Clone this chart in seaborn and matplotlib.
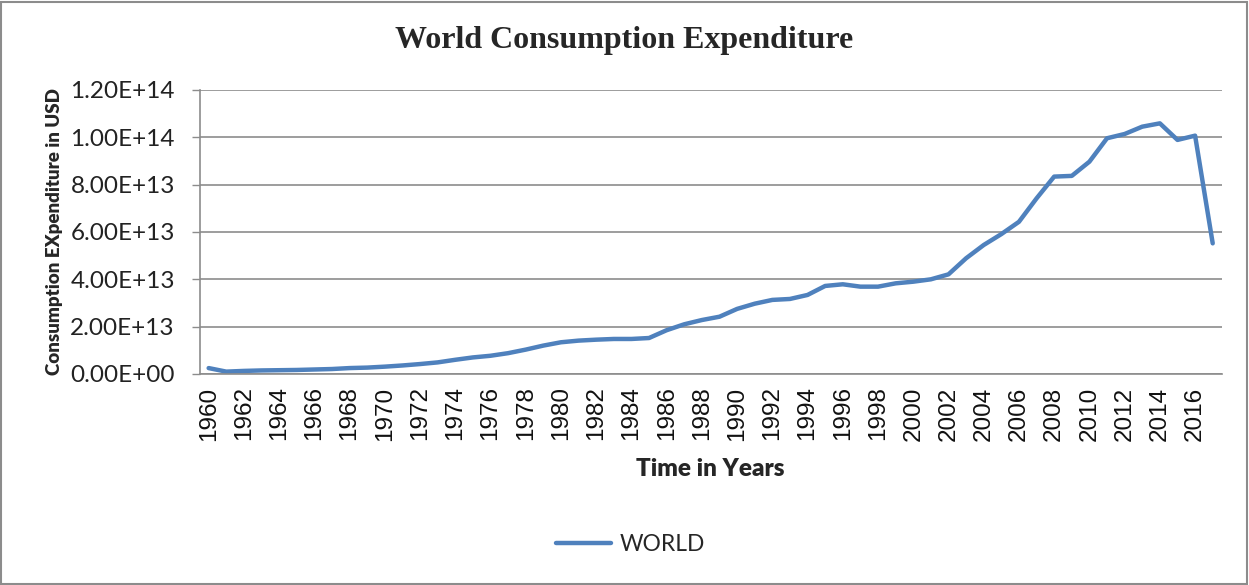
import pandas as pd
import numpy as np
import matplotlib
matplotlib.use("Agg")
import matplotlib.pyplot as plt
import seaborn as sns
from matplotlib.patches import Rectangle
from matplotlib.ticker import FixedLocator

# World consumption expenditure (units of 1e13 USD)
years = list(range(1960, 2018))
world_e13 = [
    0.25, 0.10, 0.13, 0.15, 0.16, 0.17, 0.19, 0.21, 0.25, 0.27,   # 1960-69
    0.31, 0.36, 0.42, 0.49, 0.60, 0.70, 0.77, 0.88, 1.03, 1.20,   # 1970-79
    1.34, 1.41, 1.45, 1.48, 1.48, 1.52, 1.85, 2.10, 2.28, 2.42,   # 1980-89
    2.75, 2.97, 3.13, 3.17, 3.34, 3.72, 3.79, 3.69, 3.69, 3.83,   # 1990-99
    3.90, 4.00, 4.21, 4.89, 5.45, 5.91, 6.43, 7.42, 8.34, 8.37,   # 2000-09
    8.97, 9.96, 10.14, 10.45, 10.59, 9.89, 10.07, 5.52,           # 2010-17
]
y_ticks = [0, 2e13, 4e13, 6e13, 8e13, 1e14, 1.2e14]
y_tick_labels = ["0.00E+00", "2.00E+13", "4.00E+13", "6.00E+13",
                 "8.00E+13", "1.00E+14", "1.20E+14"]

df = pd.DataFrame({"Year": years, "Expenditure": np.array(world_e13) * 1e13})

sns.set_style("white")
plt.rcParams['font.family'] = ['Lato', 'DejaVu Sans']

fig = plt.figure(figsize=(12.49, 5.85), dpi=100)
ax = fig.add_axes([0.160, 0.3607, 0.818, 0.4855])

sns.lineplot(data=df, x="Year", y="Expenditure", ax=ax, color="#4F81BD",
             linewidth=3.2, label="WORLD")

ax.set_xlim(1959.5, 2017.5)
ax.set_ylim(0, 1.2e14)
ax.set_yticks(y_ticks)
ax.set_yticklabels(y_tick_labels, fontsize=17.5, color="#222222")
ax.grid(axis="y", color="#8c8c8c", linewidth=1.2)
ax.set_axisbelow(True)

# year labels every two years, tick marks between years
ax.set_xticks(years[::2])
ax.set_xticklabels([str(y) for y in years[::2]], rotation=90, fontsize=17.5,
                   family=['Liberation Sans', 'DejaVu Sans'], color="#111111")
ax.xaxis.set_minor_locator(FixedLocator(np.arange(1959.5, 2018, 1)))
ax.tick_params(axis="x", which="major", length=0, pad=9)
ax.tick_params(axis="x", which="minor", length=6, color="#8c8c8c", width=1)
ax.tick_params(axis="y", length=6, color="#8c8c8c", width=1, pad=12, left=True)

for side in ["top", "right"]:
    ax.spines[side].set_visible(False)
for side in ["left", "bottom"]:
    ax.spines[side].set_color("#8c8c8c")
    ax.spines[side].set_linewidth(1.2)

ax.set_xlabel("Time in Years", fontsize=17.5, fontweight="heavy", labelpad=12)
ax.set_ylabel("Consumption EXpenditure in USD", fontsize=13.5, fontweight="heavy",
              labelpad=5)

fig.suptitle("World Consumption Expenditure", fontsize=23, fontweight="bold",
             family=['Liberation Serif', 'DejaVu Serif'], y=0.955)

ax.get_legend().remove()
h, l = ax.get_legend_handles_labels()
fig.legend(h, l, loc="center", bbox_to_anchor=(0.505, 0.07), frameon=False,
           fontsize=16.4, handlelength=2.4, handletextpad=0.4)

fig.add_artist(Rectangle((0.001, 0.002), 0.997, 0.995, transform=fig.transFigure,
                         fill=False, edgecolor="#8c8c8c", linewidth=1.5))

fig.savefig("out.png", dpi=100)
